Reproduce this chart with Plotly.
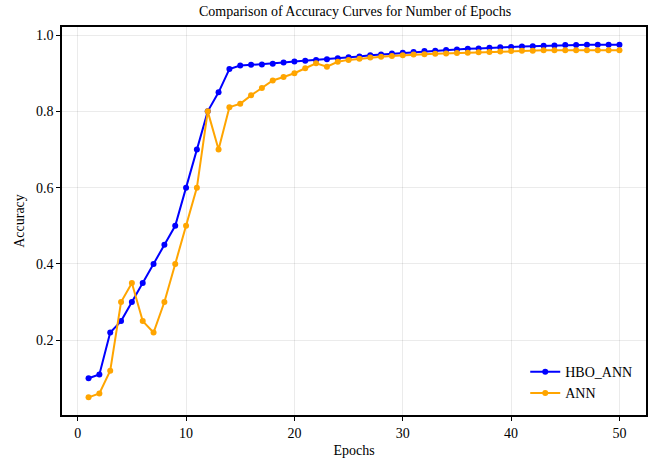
import plotly.graph_objects as go

epochs = list(range(1, 51))
hbo_ann = [0.10, 0.11, 0.22, 0.25, 0.30, 0.35, 0.40, 0.45, 0.50, 0.60,
           0.70, 0.80, 0.85, 0.911, 0.920, 0.922, 0.923, 0.925, 0.928, 0.931,
           0.933, 0.935, 0.937, 0.939, 0.942, 0.944, 0.947, 0.949, 0.952, 0.954,
           0.956, 0.958, 0.959, 0.961, 0.962, 0.964, 0.965, 0.967, 0.968, 0.969,
           0.970, 0.971, 0.972, 0.973, 0.974, 0.974, 0.975, 0.975, 0.975, 0.975]
ann = [0.05, 0.06, 0.12, 0.30, 0.35, 0.25, 0.22, 0.30, 0.40, 0.50,
       0.60, 0.80, 0.70, 0.811, 0.820, 0.842, 0.861, 0.881, 0.890, 0.900,
       0.913, 0.926, 0.917, 0.930, 0.935, 0.938, 0.941, 0.943, 0.945, 0.947,
       0.949, 0.950, 0.951, 0.952, 0.953, 0.954, 0.955, 0.956, 0.957, 0.958,
       0.959, 0.959, 0.960, 0.960, 0.960, 0.960, 0.960, 0.960, 0.960, 0.960]
x_ticks = [0, 10, 20, 30, 40, 50]
y_ticks = [0.2, 0.4, 0.6, 0.8, 1.0]

font = "Liberation Serif, Times New Roman, serif"

fig = go.Figure()
fig.add_trace(go.Scatter(x=epochs, y=hbo_ann, mode="lines+markers", name="HBO_ANN",
                         line=dict(color="#0000ff", width=2),
                         marker=dict(color="#0000ff", size=6)))
fig.add_trace(go.Scatter(x=epochs, y=ann, mode="lines+markers", name="ANN",
                         line=dict(color="#ffa500", width=2),
                         marker=dict(color="#ffa500", size=6)))

axis_common = dict(showline=True, linecolor="black", linewidth=1.5, mirror=True,
                   ticks="outside", ticklen=4, tickwidth=1.2, tickcolor="black",
                   showgrid=True, gridcolor="rgba(0,0,0,0.08)", gridwidth=1,
                   zeroline=False, tickfont=dict(family=font, size=14, color="black"))

fig.update_layout(
    width=654, height=463,
    paper_bgcolor="white", plot_bgcolor="white",
    margin=dict(l=62, r=6, t=27, b=48),
    font=dict(family=font, size=14, color="black"),
    title=dict(text="Comparison of Accuracy Curves for Number of Epochs",
               x=0.543, xanchor="center", y=0.975, yanchor="middle",
               font=dict(family=font, size=14, color="black")),
    xaxis=dict(range=[-1.45, 52.45], tickvals=x_ticks,
               title=dict(text="Epochs", font=dict(family=font, size=14), standoff=6),
               **axis_common),
    yaxis=dict(range=[0.00375, 1.02125], tickvals=y_ticks, tickformat=".1f",
               title=dict(text="Accuracy", font=dict(family=font, size=14), standoff=8),
               **axis_common),
    legend=dict(x=0.985, y=0.015, xanchor="right", yanchor="bottom",
                bgcolor="rgba(255,255,255,0)", borderwidth=0,
                font=dict(family=font, size=14, color="black"),
                itemwidth=30, tracegroupgap=2),
    showlegend=True,
)

fig.write_html("out.html")
